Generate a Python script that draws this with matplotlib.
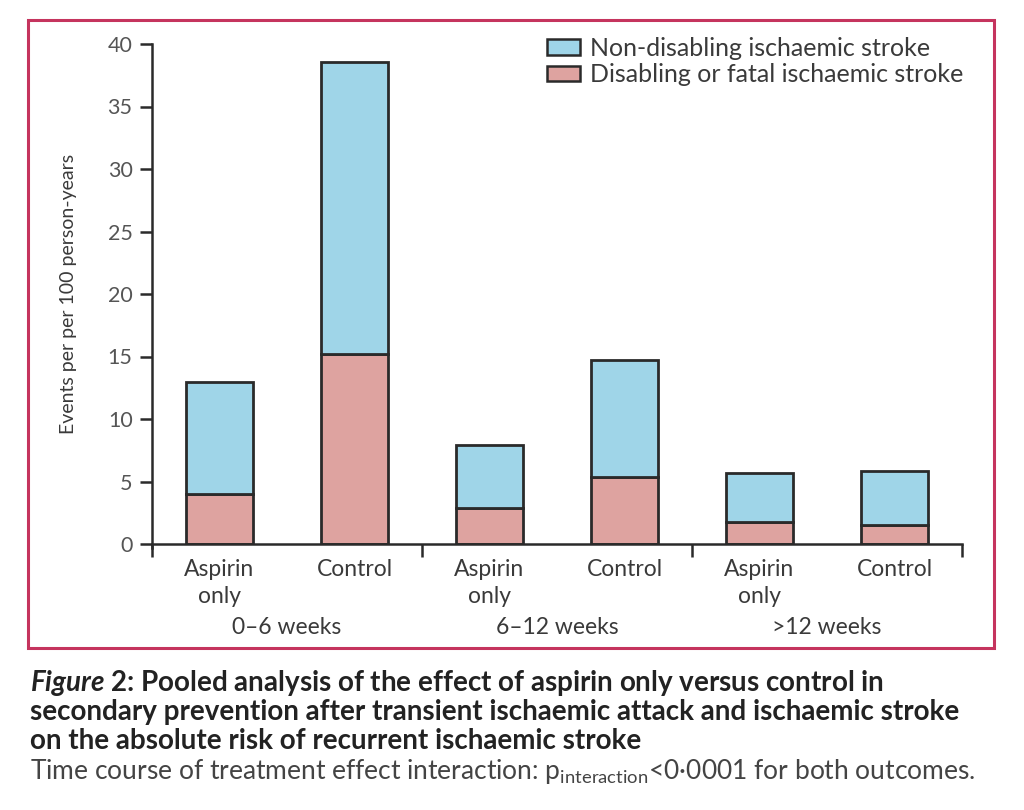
import matplotlib
matplotlib.use("Agg")
import matplotlib.pyplot as plt
from matplotlib.patches import Patch, Rectangle

FONT = "Lato"
plt.rcParams['font.family'] = [FONT, 'DejaVu Sans']
plt.rcParams['mathtext.fontset'] = 'custom'
plt.rcParams['mathtext.rm'] = FONT
plt.rcParams['mathtext.it'] = FONT + ':style=italic:weight=bold'
plt.rcParams['mathtext.bf'] = FONT + ':weight=bold'

# ---- data ----
bar_labels = ["Aspirin\nonly", "Control", "Aspirin\nonly", "Control", "Aspirin\nonly", "Control"]
group_labels = ["0–6 weeks", "6–12 weeks", ">12 weeks"]
disabling = [4.0, 15.2, 2.9, 5.4, 1.75, 1.5]
totals = [13.0, 38.6, 7.9, 14.7, 5.65, 5.85]
non_disabling = [t - d for t, d in zip(totals, disabling)]
series_names = ["Non-disabling ischaemic stroke", "Disabling or fatal ischaemic stroke"]
yticks = [0, 5, 10, 15, 20, 25, 30, 35, 40]

BLUE = "#9fd5e8"
PINK = "#dea3a0"
EDGE = "#2a2a2a"
TXT = "#3a3a3a"

fig = plt.figure(figsize=(10.24, 8.1), dpi=100)
W, H = 1024, 810

# red frame
fig.patches.append(Rectangle((28 / W, 1 - 648 / H), (994 - 28) / W, (648 - 20) / H,
                             transform=fig.transFigure, fill=False,
                             edgecolor="#c5345e", linewidth=2.2))

ax = fig.add_axes([152 / W, 1 - 544 / H, (962 - 152) / W, (544 - 44) / H])
x = list(range(len(bar_labels)))
ax.bar(x, disabling, width=0.5, color=PINK, edgecolor=EDGE, linewidth=2.0)
ax.bar(x, non_disabling, bottom=disabling, width=0.5, color=BLUE, edgecolor=EDGE, linewidth=2.0)

ax.set_xlim(-0.5, 5.5)
ax.set_ylim(0, 40)
for s in ["top", "right"]:
    ax.spines[s].set_visible(False)
ax.spines["left"].set_linewidth(1.8)
ax.spines["bottom"].set_linewidth(1.8)
ax.spines["left"].set_color(EDGE)
ax.spines["bottom"].set_color(EDGE)
ax.spines["left"].set_bounds(-0.3, 40)

ax.set_yticks(yticks)
ax.set_yticklabels([str(v) for v in yticks], fontsize=15.5, color="#555555")
ax.tick_params(axis="y", length=9, width=1.8, color=EDGE, pad=5)

# x: separators as ticks, labels as minor
ax.set_xticks([-0.5, 1.5, 3.5, 5.5])
ax.set_xticklabels([])
ax.tick_params(axis="x", which="major", length=9, width=1.8, color=EDGE, direction="out")
ax.set_xticks(x, minor=True)
ax.set_xticklabels(bar_labels, minor=True, fontsize=16.5, color=TXT, linespacing=1.35,
                   va="top")
ax.tick_params(axis="x", which="minor", length=0, pad=11)

for i, g in enumerate(group_labels):
    ax.text(2 * i + 0.5, -6.7, g, ha="center", va="center", fontsize=16.5, color=TXT)

ax.set_ylabel("Events per per 100 person-years", fontsize=14, color=TXT, labelpad=22)

handles = [Patch(facecolor=BLUE, edgecolor=EDGE, linewidth=1.8),
           Patch(facecolor=PINK, edgecolor=EDGE, linewidth=1.8)]
ax.legend(handles, series_names, loc="upper left", bbox_to_anchor=((537 - 152) / (962 - 152), 1.035),
          frameon=False, fontsize=18, handlelength=1.3, handleheight=0.6,
          handletextpad=0.4, labelspacing=0.15, labelcolor=TXT, borderaxespad=0)

# caption
fig.text(30 / W, 1 - 683 / H, r"$\mathit{Figure}$ 2: Pooled analysis of the effect of aspirin only versus control in",
         fontsize=20, fontweight="bold", color="#222222", va="center")
fig.text(30 / W, 1 - 712 / H, "secondary prevention after transient ischaemic attack and ischaemic stroke",
         fontsize=20, fontweight="bold", color="#222222", va="center")
fig.text(30 / W, 1 - 741 / H, "on the absolute risk of recurrent ischaemic stroke",
         fontsize=20, fontweight="bold", color="#222222", va="center")
fig.text(30 / W, 1 - 771 / H,
         r"Time course of treatment effect interaction: p$_{\mathregular{interaction}}$<0·0001 for both outcomes.",
         fontsize=19, color="#444444", va="center")

fig.savefig("out.png", dpi=100)
